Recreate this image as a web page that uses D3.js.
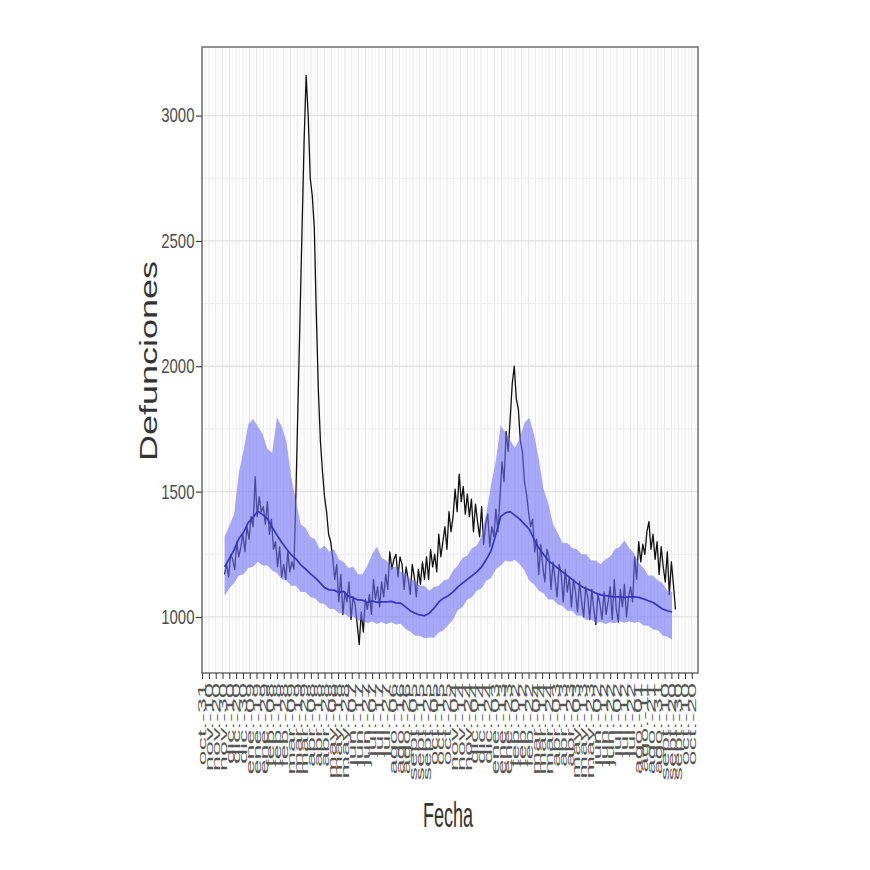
<!DOCTYPE html>
<html><head><meta charset="utf-8">
<script src="https://cdn.jsdelivr.net/npm/d3@7"></script>
<style>body{margin:0;background:#fff}</style>
</head><body>
<svg id="chart" width="870" height="870"></svg>
<script>
// ---------- data ----------
const startDate = "2019-12-03";
const obsStepDays = 3;
const observed = [
1170,1210,1160,1250,1230,1190,1300,1240,1280,1330,1260,1360,1310,1400,1360,
1560,1400,1480,1420,1440,1370,1460,1330,1390,1270,1300,1200,1280,1160,1210,1150,1260,1180,1220,1190,
1500,1850,2200,2550,2900,3160,3000,2750,2680,2550,2200,1900,1700,1580,1480,1420,1330,1300,1240,1150,1210,
1060,1170,1010,1100,1060,1140,990,1080,1050,970,890,1020,940,1070,1030,1090,1010,1150,1070,1120,1040,1140,1080,1170,1110,
1260,1190,1230,1250,1160,1240,1210,1110,1200,1150,1090,1210,1160,1080,1190,1130,1220,1150,1240,
1150,1270,1200,1250,1180,1330,1240,1300,1360,1270,1420,1340,1400,1510,1420,1570,1460,1520,1410,1490,1400,1470,1340,1450,1380,1320,1440,1290,1370,1410,1280,1360,1320,1430,1340,
1480,1620,1540,1740,1660,1790,1930,2000,1870,1830,1700,1660,1540,1490,1420,1360,1390,
1260,1310,1170,1290,1200,1140,1270,1240,1110,1220,1150,1080,1210,1170,1060,1190,1100,1160,1040,1150,1100,1020,1140,1060,1000,1120,1080,990,1110,1030,970,1090,1050,990,1100,1010,1060,1120,990,1150,1030,980,1110,1040,1130,1000,1080,1120,
1060,1240,1150,1300,1220,1290,1250,1340,1380,1270,1330,1230,1300,1170,1280,1200,1140,1260,1090,1220,1130,1030
];
const bandStepDays = 7;
const expected = [
1200,1232,1268,1312,1338,1377,1398,1422,1408,1392,
1358,1327,1298,1272,1248,1232,1208,1192,1173,1157,
1138,1117,1108,1107,1098,1102,1083,1077,1068,1067,
1058,1064,1058,1060,1060,1062,1056,1055,1040,1025,
1015,1008,1005,1015,1035,1060,1075,1085,1100,1120,
1135,1150,1165,1180,1200,1230,1265,1330,1400,1415,
1420,1405,1390,1370,1350,1310,1275,1250,1225,1210,
1195,1180,1165,1150,1135,1122,1112,1105,1095,1088,
1085,1082,1080,1080,1078,1080,1080,1078,1072,1065,
1058,1045,1032,1025,1020
];
const upper = [
1320,1365,1410,1575,1665,1770,1790,1760,1730,1670,
1655,1795,1760,1700,1560,1460,1370,1355,1320,1310,
1270,1285,1260,1270,1230,1220,1195,1200,1170,1170,
1205,1250,1280,1235,1225,1200,1200,1180,1175,1150,
1145,1125,1125,1105,1120,1125,1145,1150,1185,1205,
1235,1245,1275,1285,1325,1415,1530,1625,1765,1735,
1705,1675,1710,1775,1795,1730,1630,1510,1455,1370,
1335,1295,1295,1275,1270,1250,1250,1225,1225,1210,
1230,1240,1270,1280,1305,1275,1255,1215,1195,1165,
1165,1145,1135,1105,1100
];
const lower = [
1085,1115,1135,1165,1170,1195,1200,1220,1205,1205,
1185,1175,1150,1145,1125,1125,1100,1100,1080,1075,
1055,1052,1033,1032,1015,1016,1000,1002,986,988,
975,982,972,980,971,979,970,973,952,942,
925,925,915,918,917,938,947,968,990,1028,
1040,1070,1080,1105,1115,1145,1155,1190,1205,1225,
1220,1227,1210,1185,1145,1130,1105,1095,1070,1070,
1050,1045,1025,1025,1005,1005,988,990,976,980,
972,979,975,983,977,983,977,981,966,965,
950,948,926,921,910
];
const yTicks = [1000, 1500, 2000, 2500, 3000];
const yMinorTicks = [1250, 1750, 2250, 2750];
const xTickStepDays = 10;
const monthsEs = ["ene.","feb.","mar.","abr.","may.","jun.","jul.","ago.","sept.","oct.","nov.","dic."];
const xTitle = "Fecha";
const yTitle = "Defunciones";

// ---------- chart ----------
const svg = d3.select("#chart");
const P = {left: 202, right: 698, top: 47, bottom: 673};
const font = "'Liberation Sans', Arial, Helvetica, sans-serif";

const t0 = d3.timeParse("%Y-%m-%d")(startDate);
const obsData = observed.map((v, i) => ({date: d3.timeDay.offset(t0, i * obsStepDays), v}));
const bandData = expected.map((v, i) => ({date: d3.timeDay.offset(t0, i * bandStepDays), e: v, lo: lower[i], hi: upper[i]}));

const ext = d3.extent(obsData, d => d.date);
const span = ext[1] - ext[0];
const x = d3.scaleTime()
  .domain([new Date(+ext[0] - 0.05 * span), new Date(+ext[1] + 0.05 * span)])
  .range([P.left, P.right]);

const yMin = d3.min([d3.min(observed), d3.min(lower)]);
const yMax = d3.max([d3.max(observed), d3.max(upper)]);
const yPad = 0.05 * (yMax - yMin);
const y = d3.scaleLinear().domain([yMin - yPad, yMax + yPad]).range([P.bottom, P.top]);

const locale = d3.timeFormatLocale({
  dateTime: "%x, %X", date: "%d/%m/%Y", time: "%H:%M:%S", periods: ["AM","PM"],
  days: ["domingo","lunes","martes","miércoles","jueves","viernes","sábado"],
  shortDays: ["dom","lun","mar","mié","jue","vie","sáb"],
  months: ["enero","febrero","marzo","abril","mayo","junio","julio","agosto","septiembre","octubre","noviembre","diciembre"],
  shortMonths: monthsEs
});
const fmt = locale.format("%b-%d");

const d0 = d3.timeDay.ceil(x.domain()[0]);
const tickDates = d3.timeDay.range(d0, x.domain()[1], xTickStepDays);
const minorDates = d3.timeDay.range(d3.timeDay.offset(d0, xTickStepDays / 2), x.domain()[1], xTickStepDays);

// panel background + grid
const g = svg.append("g");
g.append("rect").attr("x", P.left).attr("y", P.top).attr("width", P.right - P.left).attr("height", P.bottom - P.top).attr("fill", "#fff");

g.selectAll("line.vmin").data(minorDates.filter(d => x(d) > P.left && x(d) < P.right)).join("line")
  .attr("x1", d => x(d)).attr("x2", d => x(d)).attr("y1", P.top).attr("y2", P.bottom)
  .attr("stroke", "#efefef").attr("stroke-width", 0.8);
g.selectAll("line.vmaj").data(tickDates).join("line")
  .attr("x1", d => x(d)).attr("x2", d => x(d)).attr("y1", P.top).attr("y2", P.bottom)
  .attr("stroke", "#e6e6e6").attr("stroke-width", 1);
g.selectAll("line.hmin").data(yMinorTicks).join("line")
  .attr("x1", P.left).attr("x2", P.right).attr("y1", d => y(d)).attr("y2", d => y(d))
  .attr("stroke", "#ececec").attr("stroke-width", 1);
g.selectAll("line.hmaj").data(yTicks).join("line")
  .attr("x1", P.left).attr("x2", P.right).attr("y1", d => y(d)).attr("y2", d => y(d))
  .attr("stroke", "#e2e2e2").attr("stroke-width", 1.3);

// observed line
g.append("path").datum(obsData)
  .attr("fill", "none").attr("stroke", "#111").attr("stroke-width", 1.3).attr("stroke-linejoin", "round")
  .attr("d", d3.line().x(d => x(d.date)).y(d => y(d.v)));

// band
g.append("path").datum(bandData)
  .attr("fill", "#7070f5").attr("fill-opacity", 0.6)
  .attr("d", d3.area().x(d => x(d.date)).y0(d => y(d.lo)).y1(d => y(d.hi)));

// expected line
g.append("path").datum(bandData)
  .attr("fill", "none").attr("stroke", "#3333c8").attr("stroke-width", 1.7).attr("stroke-linejoin", "round")
  .attr("d", d3.line().x(d => x(d.date)).y(d => y(d.e)));

// border
g.append("rect").attr("x", P.left).attr("y", P.top).attr("width", P.right - P.left).attr("height", P.bottom - P.top)
  .attr("fill", "none").attr("stroke", "#6e6e6e").attr("stroke-width", 1.5);

// y axis
const yAx = svg.append("g").attr("transform", `translate(${P.left},0)`)
  .call(d3.axisLeft(y).tickValues(yTicks).tickSize(6).tickPadding(4).tickFormat(d3.format("d")));
yAx.select(".domain").remove();
yAx.selectAll(".tick line").attr("stroke", "#333").attr("stroke-width", 1.1);
yAx.selectAll(".tick text").attr("fill", "#4d4d4d").attr("font-size", 20).attr("font-family", font)
  .attr("transform", "scale(0.75,1)");

// x axis
const xAx = svg.append("g").attr("transform", `translate(0,${P.bottom})`)
  .call(d3.axisBottom(x).tickValues(tickDates).tickSize(6).tickFormat(fmt));
xAx.select(".domain").remove();
xAx.selectAll(".tick line").attr("stroke", "#333").attr("stroke-width", 1);
xAx.selectAll(".tick text")
  .attr("fill", "#555").attr("font-size", 27).attr("font-family", font)
  .attr("x", 0).attr("y", 0).attr("dy", "0.35em").attr("text-anchor", "end")
  .attr("transform", "translate(0,10) rotate(-90) scale(1,0.4)");

// titles
svg.append("text").text(yTitle)
  .attr("font-family", font).attr("font-size", 36).attr("fill", "#333").attr("text-anchor", "middle")
  .attr("transform", "translate(157,361) rotate(-90) scale(1,0.66)");
svg.append("text").text(xTitle)
  .attr("font-family", font).attr("font-size", 36).attr("fill", "#333").attr("text-anchor", "middle")
  .attr("transform", "translate(448,827) scale(0.5,1)");
</script>
</body></html>
